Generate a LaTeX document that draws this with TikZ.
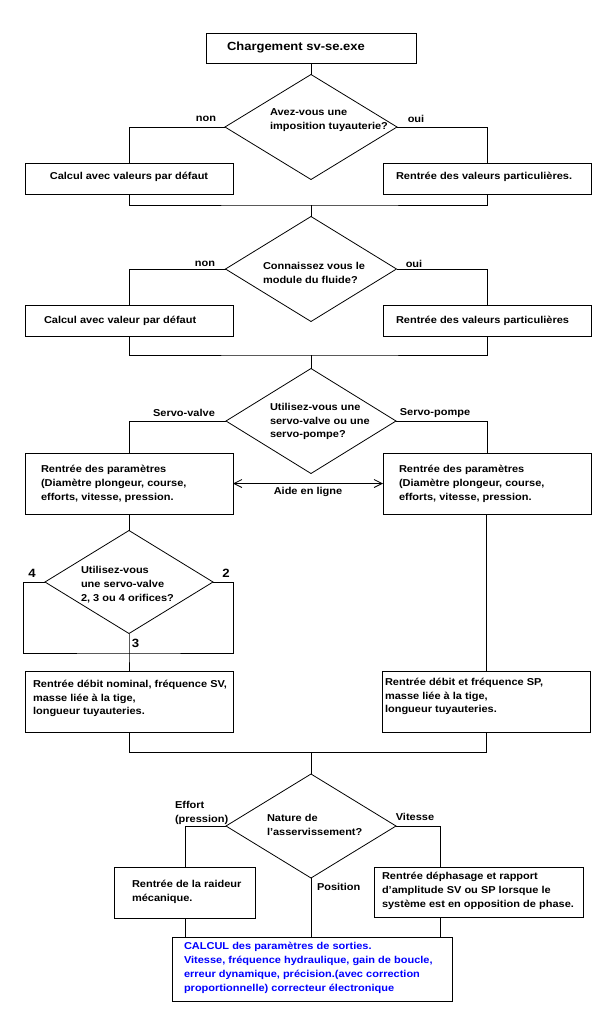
\documentclass[tikz,border=0pt]{standalone}
\usepackage{fontspec}
\setmainfont[FakeStretch=1.1]{Liberation Sans}
\usetikzlibrary{shapes.geometric, arrows.meta}
\definecolor{calcblue}{RGB}{0,0,255}
\begin{document}
\begin{tikzpicture}[x=1pt, y=-1pt, line width=0.8pt,
  box/.style={draw, rectangle, inner sep=0pt, outer sep=0pt},
  dia/.style={draw, diamond, inner sep=0pt, outer sep=0pt},
  txt/.style={inner sep=0pt, outer sep=0pt, font=\fontsize{10}{13.8}\selectfont\bfseries, align=left},
  big/.style={inner sep=0pt, outer sep=0pt, font=\fontsize{11.8}{14}\selectfont\bfseries},
  digit/.style={inner sep=0pt, outer sep=0pt, font=\fontsize{12}{13}\selectfont\bfseries},
  aide/.style={{Straight Barb[length=8pt,width=8pt]}-{Straight Barb[length=8pt,width=8pt]}}
]
\fill[white] (0,0) rectangle (604,1034);
\useasboundingbox (0,0) rectangle (604,1034);

% boxes
\node[box, minimum width=210pt, minimum height=30pt] (top) at (311,48) {};
\node[box, minimum width=208pt, minimum height=31pt] (b1l) at (129,178.5) {};
\node[box, minimum width=208pt, minimum height=31pt] (b1r) at (487,178.5) {};
\node[box, minimum width=208pt, minimum height=31pt] (b2l) at (129,320.5) {};
\node[box, minimum width=208pt, minimum height=31pt] (b2r) at (487,320.5) {};
\node[box, minimum width=208pt, minimum height=61pt] (b3l) at (129,483.5) {};
\node[box, minimum width=208pt, minimum height=61pt] (b3r) at (487,483.5) {};
\node[box, minimum width=208pt, minimum height=61pt] (b5l) at (129,702) {};
\node[box, minimum width=208pt, minimum height=61pt] (b5r) at (486,702) {};
\node[box, minimum width=141pt, minimum height=51pt] (b6l) at (185,892.5) {};
\node[box, minimum width=209pt, minimum height=50pt] (b6r) at (478.5,892) {};
\node[box, minimum width=280pt, minimum height=64pt] (bot) at (312,969) {};

% diamonds
\node[dia, minimum width=172pt, minimum height=105pt] (d1) at (311,127) {};
\node[dia, minimum width=171pt, minimum height=105pt] (d2) at (311,269) {};
\node[dia, minimum width=170pt, minimum height=105pt] (d3) at (311,421) {};
\node[dia, minimum width=168pt, minimum height=103pt] (d4) at (129,582) {};
\node[dia, minimum width=170pt, minimum height=104pt] (d5) at (311,826) {};

% texts
\node[big, anchor=west] (t0) at (227,47) {Chargement sv-se.exe};
\node[txt, anchor=west] (td1) at (270,120) {Avez-vous une\\imposition tuyauterie?};
\node[txt] (n1) at (206,119) {non};
\node[txt] (o1) at (416,119) {oui};
\node[txt] (t1l) at (129,177) {Calcul avec valeurs par défaut};
\node[txt, anchor=west] (t1r) at (396,177) {Rentrée des valeurs particulières.};

\node[txt, anchor=west] (td2) at (263,273) {Connaissez vous le\\module du fluide?};
\node[txt] (n2) at (205,264) {non};
\node[txt] (o2) at (414,264) {oui};
\node[txt, anchor=west] (t2l) at (44,321) {Calcul avec valeur par défaut};
\node[txt, anchor=west] (t2r) at (396,321) {Rentrée des valeurs particulières};

\node[txt, anchor=west] (td3) at (270,421.5) {Utilisez-vous une\\servo-valve ou une\\servo-pompe?};
\node[txt] (sv) at (184,413) {Servo-valve};
\node[txt] (sp) at (435,413) {Servo-pompe};
\node[txt, anchor=west] (t3l) at (41,484) {Rentrée des paramètres\\(Diamètre plongeur, course,\\efforts, vitesse, pression.};
\node[txt, anchor=west] (t3r) at (399,484) {Rentrée des paramètres\\(Diamètre plongeur, course,\\efforts, vitesse, pression.};
\node[txt] (aide) at (308,492) {Aide en ligne};

\node[txt, anchor=west] (td4) at (81,584.5) {Utilisez-vous\\une servo-valve\\2, 3 ou 4 orifices?};
\node[digit] (q4) at (32,573) {4};
\node[digit] (q2) at (226,573) {2};
\node[digit] (q3) at (135.5,643) {3};
\node[txt, anchor=west] (t5l) at (33,698.5) {Rentrée débit nominal, fréquence SV,\\masse liée à la tige,\\longueur tuyauteries.};
\node[txt, anchor=west] (t5r) at (385,696.5) {Rentrée débit et fréquence SP,\\masse liée à la tige,\\longueur tuyauteries.};

\node[txt, anchor=west] (td5) at (267,825) {Nature de\\l'asservissement?};
\node[txt, anchor=west] (eff) at (175,813) {Effort\\(pression)};
\node[txt] (vit) at (415,817) {Vitesse};
\node[txt, anchor=west] (pos) at (317,887) {Position};
\node[txt, anchor=west] (t6l) at (132,891.5) {Rentrée de la raideur\\mécanique.};
\node[txt, anchor=west] (t6r) at (382,891) {Rentrée déphasage et rapport\\d'amplitude SV ou SP lorsque le\\système est en opposition de phase.};
\node[txt, anchor=west, text=calcblue] (tbot) at (184,968) {CALCUL des paramètres de sorties.\\Vitesse, fréquence hydraulique, gain de boucle,\\erreur dynamique, précision.(avec correction\\proportionnelle) correcteur électronique};

% coordinates
\coordinate (j1) at (311,205);
\coordinate (j2) at (311,355);
\coordinate (j4) at (129,653);
\coordinate (l4) at (23,582);
\coordinate (r4) at (233,582);
\coordinate (j5) at (311,752);
\coordinate (v6r) at (440,826);

% connectors
\draw (top.south) -- (d1.north);
\draw (d1.west) -| (b1l.north);
\draw (d1.east) -| (b1r.north);
\draw (b1l.south) |- (j1) -| (b1r.south);
\draw (j1) -- (d2.north);

\draw (d2.west) -| (b2l.north);
\draw (d2.east) -| (b2r.north);
\draw (b2l.south) |- (j2) -| (b2r.south);
\draw (j2) -- (d3.north);

\draw (d3.west) -| (b3l.north);
\draw (d3.east) -| (b3r.north);
\draw[aide] (b3l.east) -- (b3r.west);
\draw (b3l.south) -- (d4.north);
\draw (b3r.south -| b5r.north) -- (b5r.north);

\draw (d4.west) -- (l4) |- (j4) -| (r4) -- (d4.east);
\draw (d4.south) -- (j4) -- (b5l.north);

\draw (b5l.south) |- (j5) -| (b5r.south);
\draw (j5) -- (d5.north);

\draw (d5.west) -| (b6l.north);
\draw (d5.east) -- (v6r) -- (v6r |- b6r.north);
\draw (b6l.south) -- (b6l.south |- bot.north);
\draw (b6r.south -| v6r) -- (v6r |- bot.north);
\draw (d5.south) -- (d5.south |- bot.north);
\end{tikzpicture}
\end{document}
